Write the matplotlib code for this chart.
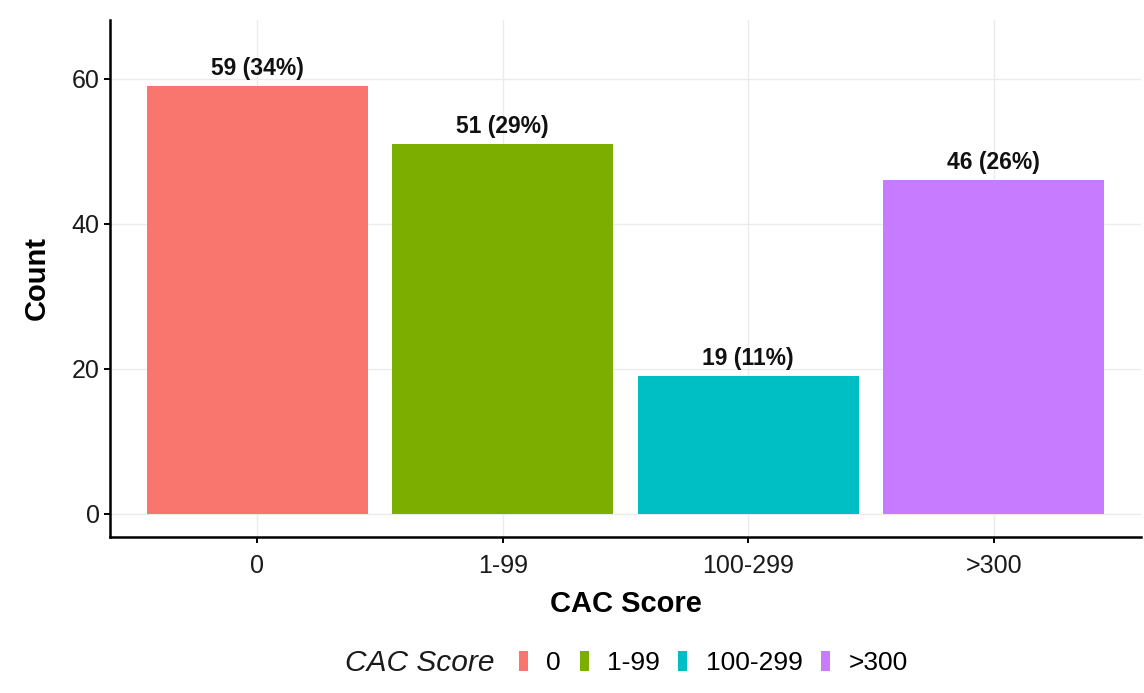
import matplotlib
matplotlib.use("Agg")
import matplotlib.pyplot as plt
from matplotlib.patches import Patch

categories = ["0", "1-99", "100-299", ">300"]
counts = [59, 51, 19, 46]
bar_labels = ["59 (34%)", "51 (29%)", "19 (11%)", "46 (26%)"]
colors = ["#F8766D", "#7CAE00", "#00BFC4", "#C77CFF"]
yticks = [0, 20, 40, 60]

plt.rcParams['font.family'] = ['Liberation Sans', 'DejaVu Sans']

fig = plt.figure(figsize=(11.44, 6.93), dpi=100)
ax = fig.add_axes([110/1144, 1-537/693, (1141-110)/1144, (537-20)/693])

x = list(range(len(categories)))
ax.bar(x, counts, width=0.9, color=colors, zorder=2)
for xi, c, lab in zip(x, counts, bar_labels):
    ax.annotate(lab, (xi, c), xytext=(0, 4.5), textcoords='offset points',
                ha='center', va='bottom', fontsize=16.5, fontweight='bold', color='#111111')

ax.set_xlim(-0.6, 3.6)
ax.set_ylim(-3.2, 68.1)
ax.set_xticks(x)
ax.set_xticklabels(categories)
ax.set_yticks(yticks)
ax.grid(True, color='#EBEBEB', linewidth=1.0, zorder=0)
ax.set_axisbelow(True)
for s in ['top', 'right']:
    ax.spines[s].set_visible(False)
for s in ['left', 'bottom']:
    ax.spines[s].set_linewidth(1.8)
    ax.spines[s].set_color('black')
ax.tick_params(axis='both', labelsize=18, length=4.5, width=1.4, colors='black', labelcolor='#1a1a1a')
ax.tick_params(axis='x', pad=7.5)
ax.tick_params(axis='y', pad=3)
ax.set_xlabel("CAC Score", fontsize=21, fontweight='bold')
ax.set_ylabel("Count", fontsize=21, fontweight='bold')
ax.xaxis.set_label_coords(0.5, (537-589.5)/517)
ax.yaxis.set_label_coords((51-110)/1031, 0.5)

handles = [Patch(facecolor=c, edgecolor='none') for c in colors]
fig.text(345/1144, 1-663/693, "CAC Score", fontsize=21.5, fontstyle='italic', ha='left', va='center', color='#1a1a1a')
fig.legend(handles, categories, loc='center left', bbox_to_anchor=(519/1144, 1-663/693),
           ncol=4, frameon=False, fontsize=19, handlelength=0.34, handleheight=0.8,
           handletextpad=0.7, columnspacing=0.7, borderpad=0, borderaxespad=0)

fig.savefig("out.png", dpi=100)
